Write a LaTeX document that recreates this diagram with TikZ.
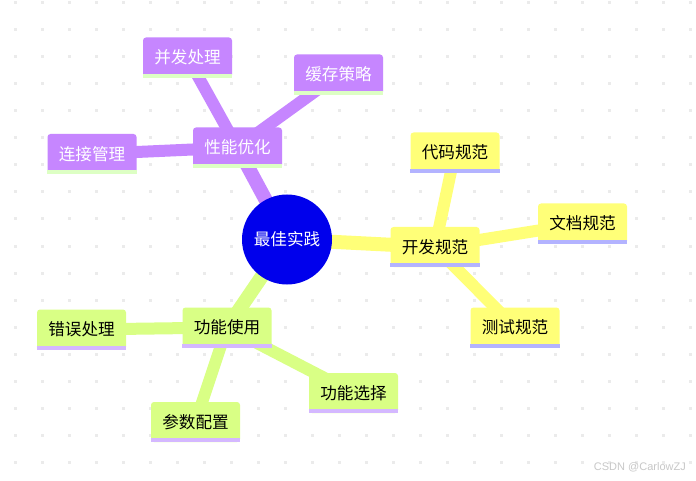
\documentclass[tikz,border=0pt]{standalone}
\usepackage{fontspec}
\newfontfamily\cjk{Noto Sans CJK SC}
\setsansfont{Liberation Sans}
\definecolor{rootblue}{HTML}{0000EC}
\definecolor{cyel}{HTML}{FFFF78}
\definecolor{cyelb}{HTML}{B3B3FF}
\definecolor{cgrn}{HTML}{D9FF85}
\definecolor{cgrnb}{HTML}{D4B8FF}
\definecolor{cpur}{HTML}{C686FF}
\definecolor{cpurb}{HTML}{DDFFC4}
\definecolor{gdot}{HTML}{EBEBEB}
\definecolor{wmark}{HTML}{C8C8C8}
\tikzset{
  mbox/.style={rectangle, rounded corners=3pt, minimum width=89pt, minimum height=40pt,
    inner sep=0pt, font=\cjk\fontsize{16.6}{16.6}\selectfont},
  ybox/.style={mbox, fill=cyel, text=black},
  gbox/.style={mbox, fill=cgrn, text=black},
  pbox/.style={mbox, fill=cpur, text=white},
  mainline/.style={line width=14pt},
  subline/.style={line width=12pt},
}
\newcommand{\mstrip}[2]{\fill[#2] ([yshift=4pt]#1.south west) rectangle (#1.south east);}
\begin{document}
\begin{tikzpicture}[x=1pt,y=-1pt]
\useasboundingbox (0,0) rectangle (696,481);
\fill[white] (0,0) rectangle (696,481);
% dot grid
\foreach \i in {0,...,25}{
  \foreach \j in {0,...,17}{
    \fill[gdot] ({15+27*\i-1.5},{3+27*\j-1.5}) rectangle ++(3,3);
  }
}
% coordinates of nodes
\coordinate (r) at (287,239.5);
\coordinate (p) at (237.5,147.5);
\coordinate (p1) at (187.5,57.5);
\coordinate (p2) at (338.5,74.5);
\coordinate (p3) at (92,154);
\coordinate (y) at (435,247);
\coordinate (y1) at (455,152.5);
\coordinate (y2) at (582.5,223.5);
\coordinate (y3) at (515,327.5);
\coordinate (g) at (227,327.5);
\coordinate (g1) at (81.5,329.5);
\coordinate (g2) at (195.5,422);
\coordinate (g3) at (353.5,393);
% connectors
\draw[mainline, cpur] (r) -- (p);
\draw[subline, cpur] (p) -- (p1);
\draw[subline, cpur] (p) -- (p2);
\draw[subline, cpur] (p) -- (p3);
\draw[mainline, cyel] (r) -- (y);
\draw[subline, cyel] (y) -- (y1);
\draw[subline, cyel] (y) -- (y2);
\draw[subline, cyel] (y) -- (y3);
\draw[mainline, cgrn] (r) -- (g);
\draw[subline, cgrn] (g) -- (g1);
\draw[subline, cgrn] (g) -- (g2);
\draw[subline, cgrn] (g) -- (g3);
% root
\node[circle, fill=rootblue, minimum size=90pt, inner sep=0pt, text=white,
  font=\cjk\fontsize{16.6}{16.6}\selectfont] (root) at (r) {最佳实践};
% purple branch
\node[pbox] (perf) at (p) {性能优化}; \mstrip{perf}{cpurb}
\node[pbox] (conc) at (p1) {并发处理}; \mstrip{conc}{cpurb}
\node[pbox] (cache) at (p2) {缓存策略}; \mstrip{cache}{cpurb}
\node[pbox] (conn) at (p3) {连接管理}; \mstrip{conn}{cpurb}
% yellow branch
\node[ybox] (dev) at (y) {开发规范}; \mstrip{dev}{cyelb}
\node[ybox] (code) at (y1) {代码规范}; \mstrip{code}{cyelb}
\node[ybox] (doc) at (y2) {文档规范}; \mstrip{doc}{cyelb}
\node[ybox] (test) at (y3) {测试规范}; \mstrip{test}{cyelb}
% green branch
\node[gbox] (use) at (g) {功能使用}; \mstrip{use}{cgrnb}
\node[gbox] (err) at (g1) {错误处理}; \mstrip{err}{cgrnb}
\node[gbox] (param) at (g2) {参数配置}; \mstrip{param}{cgrnb}
\node[gbox] (sel) at (g3) {功能选择}; \mstrip{sel}{cgrnb}
% watermark
\node[text=wmark, font=\sffamily\fontsize{11}{11}\selectfont, anchor=east, inner sep=0pt] (wm) at (686,467) {CSDN @CarlowZJ};
\end{tikzpicture}
\end{document}
